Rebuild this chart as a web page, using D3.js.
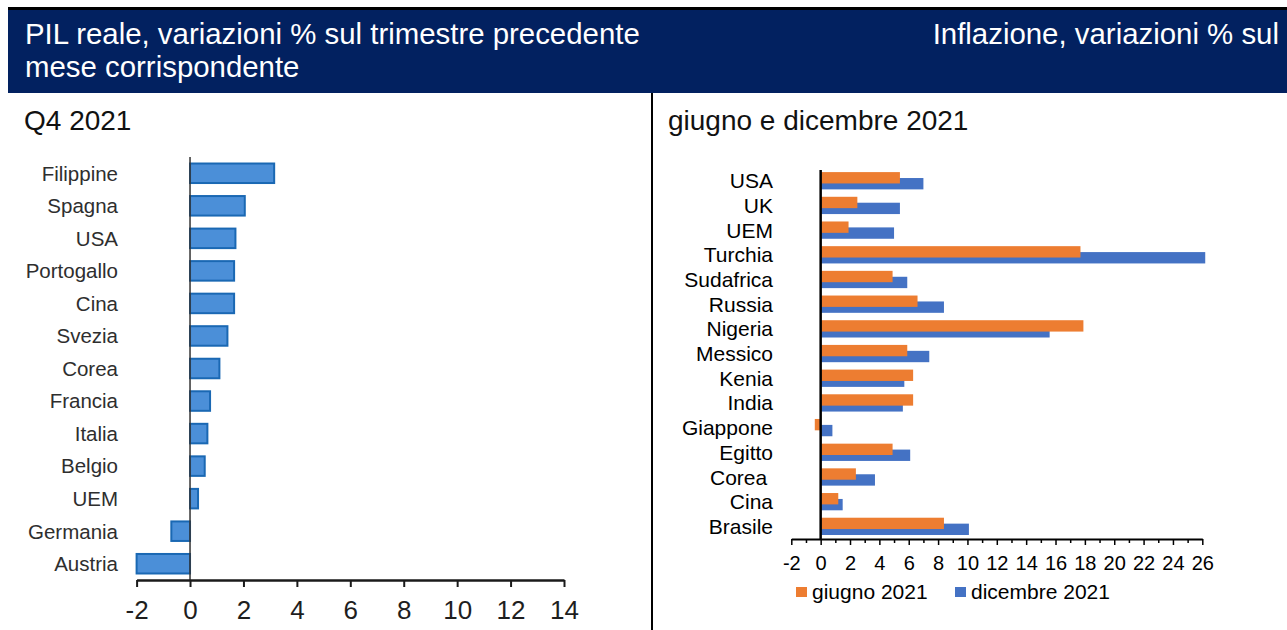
<!DOCTYPE html>
<html>
<head>
<meta charset="utf-8">
<script src="https://cdn.jsdelivr.net/npm/d3@7"></script>
<style>
  html, body { margin: 0; padding: 0; background: #fff; }
  svg { display: block; font-family: "Liberation Sans", Arial, sans-serif; }
</style>
</head>
<body>
<div id="chart"></div>
<script>
// PIL reale Q4 2021
const gdpCountries = ["Filippine", "Spagna", "USA", "Portogallo", "Cina", "Svezia", "Corea",
    "Francia", "Italia", "Belgio", "UEM", "Germania", "Austria"];
const gdpValues = [3.15, 2.05, 1.7, 1.65, 1.65, 1.4, 1.1, 0.75, 0.65, 0.55, 0.3, -0.7, -2.0];
const gdpTicks = [-2, 0, 2, 4, 6, 8, 10, 12, 14];

// Inflazione giugno e dicembre 2021
const inflCountries = ["USA", "UK", "UEM", "Turchia", "Sudafrica", "Russia", "Nigeria", "Messico",
    "Kenia", "India", "Giappone", "Egitto", "Corea\u00a0", "Cina", "Brasile"];
const june2021 = [5.4, 2.5, 1.9, 17.7, 4.9, 6.6, 17.9, 5.9, 6.3, 6.3, -0.4, 4.9, 2.4, 1.2, 8.4];
const dec2021 = [7.0, 5.4, 5.0, 26.2, 5.9, 8.4, 15.6, 7.4, 5.7, 5.6, 0.8, 6.1, 3.7, 1.5, 10.1];
const inflTicks = [-2, 0, 2, 4, 6, 8, 10, 12, 14, 16, 18, 20, 22, 24, 26];
const inflMinor = [-1, 1, 3, 5, 7, 9, 11, 13, 15, 17, 19, 21, 23, 25];
const seriesNames = ["giugno 2021", "dicembre 2021"];

const width = 1287, height = 630;
const orange = "#ed7d31", blue = "#4472c4";

const svg = d3.select("#chart").append("svg")
    .attr("width", width)
    .attr("height", height);

// ========= Header band
svg.append("rect")
    .attr("x", 8).attr("y", 7)
    .attr("width", width - 8).attr("height", 86)
    .attr("fill", "#022160");
svg.append("rect")
    .attr("x", 8).attr("y", 7)
    .attr("width", width - 8).attr("height", 3)
    .attr("fill", "#000");

const header = svg.append("g")
    .style("fill", "#fff")
    .style("font-size", "29.4px");
header.append("text").attr("x", 25).attr("y", 44)
    .text("PIL reale, variazioni % sul trimestre precedente");
header.append("text").attr("x", 25).attr("y", 77)
    .text("mese corrispondente");
header.append("text").attr("x", 1279).attr("y", 44)
    .attr("text-anchor", "end")
    .text("Inflazione, variazioni % sul");

svg.append("text").attr("x", 24).attr("y", 130)
    .style("font-size", "28px").style("fill", "#111")
    .text("Q4 2021");
svg.append("text").attr("x", 668).attr("y", 130)
    .style("font-size", "28px").style("fill", "#111")
    .text("giugno e dicembre 2021");

// separator
svg.append("line")
    .attr("x1", 652).attr("x2", 652)
    .attr("y1", 93).attr("y2", height)
    .attr("stroke", "#000").attr("stroke-width", 2);

// ========= Left chart: GDP
const xGdp = d3.scaleLinear().domain([-2, 14]).range([136.6, 564]);
const yGdp = d3.scaleBand().domain(gdpCountries).range([157, 580])
    .paddingInner(0.4).paddingOuter(0.2);

const left = svg.append("g");

left.selectAll(".gdp-bar")
    .data(gdpCountries)
    .enter()
    .append("rect")
    .attr("class", "gdp-bar")
    .attr("x", (d, i) => xGdp(Math.min(0, gdpValues[i])))
    .attr("width", (d, i) => Math.abs(xGdp(gdpValues[i]) - xGdp(0)))
    .attr("y", d => yGdp(d))
    .attr("height", yGdp.bandwidth())
    .attr("fill", "#4b8fd8")
    .attr("stroke", "#1a68b3")
    .attr("stroke-width", 2);

left.append("line")
    .attr("x1", xGdp(0)).attr("x2", xGdp(0))
    .attr("y1", 157).attr("y2", 580)
    .attr("stroke", "#333").attr("stroke-width", 1.5);

left.selectAll(".gdp-label")
    .data(gdpCountries)
    .enter()
    .append("text")
    .attr("class", "gdp-label")
    .attr("x", 118)
    .attr("y", d => yGdp(d) + yGdp.bandwidth() / 2)
    .attr("dy", "0.36em")
    .attr("text-anchor", "end")
    .style("font-size", "20.5px")
    .style("fill", "#2e2e2e")
    .text(d => d);

const gdpAxis = left.append("g")
    .attr("transform", "translate(0,580)")
    .call(d3.axisBottom(xGdp).tickValues(gdpTicks).tickSize(7).tickSizeOuter(0)
        .tickPadding(14).tickFormat(d => String(d)));
gdpAxis.attr("font-family", null).attr("font-size", null);
gdpAxis.select(".domain").attr("stroke", "#1a1a1a").attr("stroke-width", 2.5);
gdpAxis.selectAll(".tick line").attr("stroke", "#1a1a1a").attr("stroke-width", 2);
gdpAxis.selectAll(".tick text").style("font-size", "26px").style("fill", "#1e1e1e");

// ========= Right chart: inflation
const xInf = d3.scaleLinear().domain([-2, 26]).range([791.3, 1202.3]);
const yInf = d3.scaleBand().domain(inflCountries).range([168.4, 538.7]);
const bw = yInf.bandwidth();
const barH = bw * 0.46;

const right = svg.append("g");

right.selectAll(".dec-bar")
    .data(inflCountries)
    .enter()
    .append("rect")
    .attr("class", "dec-bar")
    .attr("x", (d, i) => xInf(Math.min(0, dec2021[i])))
    .attr("width", (d, i) => Math.abs(xInf(dec2021[i]) - xInf(0)))
    .attr("y", d => yInf(d) + bw * 0.39)
    .attr("height", barH)
    .attr("fill", blue);

right.selectAll(".jun-bar")
    .data(inflCountries)
    .enter()
    .append("rect")
    .attr("class", "jun-bar")
    .attr("x", (d, i) => xInf(Math.min(0, june2021[i])))
    .attr("width", (d, i) => Math.abs(xInf(june2021[i]) - xInf(0)))
    .attr("y", d => yInf(d) + bw * 0.15)
    .attr("height", barH)
    .attr("fill", orange);

right.append("line")
    .attr("x1", xInf(0)).attr("x2", xInf(0))
    .attr("y1", 170).attr("y2", 539)
    .attr("stroke", "#000").attr("stroke-width", 2.5);

right.selectAll(".inf-label")
    .data(inflCountries)
    .enter()
    .append("text")
    .attr("class", "inf-label")
    .attr("x", 773)
    .attr("y", d => yInf(d) + bw / 2)
    .attr("dy", "0.36em")
    .attr("text-anchor", "end")
    .style("font-size", "21px")
    .style("fill", "#000")
    .text(d => d);

const minorAxis = right.append("g")
    .attr("transform", "translate(0,539)")
    .call(d3.axisBottom(xInf).tickValues(inflMinor).tickSize(4).tickSizeOuter(0).tickFormat(""));
minorAxis.select(".domain").remove();
minorAxis.selectAll(".tick line").attr("stroke", "#000").attr("stroke-width", 1.5);

const infAxis = right.append("g")
    .attr("transform", "translate(0,539)")
    .call(d3.axisBottom(xInf).tickValues(inflTicks).tickSize(6).tickSizeOuter(0)
        .tickPadding(11).tickFormat(d => String(d)));
infAxis.attr("font-family", null).attr("font-size", null);
infAxis.select(".domain").attr("stroke", "#000").attr("stroke-width", 2);
infAxis.selectAll(".tick line").attr("stroke", "#000").attr("stroke-width", 1.5);
infAxis.selectAll(".tick text").style("font-size", "20px").style("fill", "#000");

// legend
const legendX = [796, 955];
const legend = right.selectAll(".legend")
    .data(seriesNames)
    .enter()
    .append("g")
    .attr("class", "legend")
    .attr("transform", (d, i) => `translate(${legendX[i]},587)`);
legend.append("rect")
    .attr("width", 11).attr("height", 10)
    .attr("fill", (d, i) => i === 0 ? orange : blue);
legend.append("text")
    .attr("x", 16).attr("y", 12)
    .style("font-size", "21px")
    .style("fill", "#000")
    .text(d => d);
</script>
</body>
</html>
